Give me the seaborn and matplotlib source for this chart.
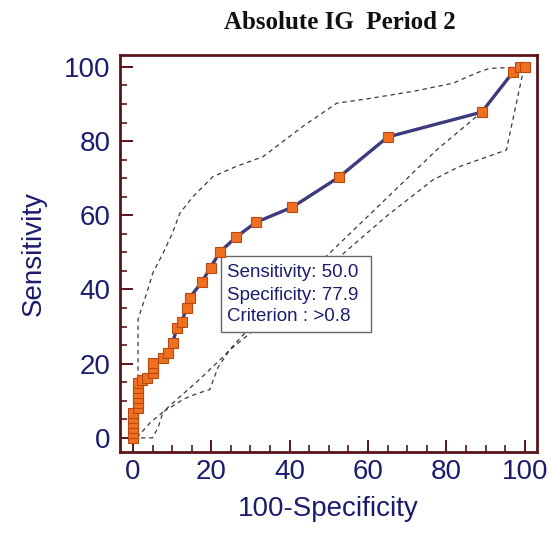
import matplotlib
matplotlib.use("Agg")
import matplotlib.pyplot as plt
import seaborn as sns
import pandas as pd
from matplotlib.patches import Rectangle
from matplotlib.ticker import MultipleLocator

# ROC curve points (100-Specificity, Sensitivity)
roc_x = [0, 0, 0, 0, 0, 0, 1.3, 1.3, 1.3, 1.3, 1.3, 1.3, 2.2, 3.5, 5.2, 5.2, 5.2,
         7.6, 9.0, 10.1, 11.3, 12.4, 13.7, 14.5, 17.5, 19.8, 22.1, 26.3, 31.4,
         40.7, 52.6, 65.0, 89.0, 97.0, 98.7, 100]
roc_y = [0, 1.4, 2.7, 4.1, 5.4, 6.8, 8.1, 9.5, 10.8, 12.2, 13.5, 14.9, 15.5, 16.2,
         17.6, 18.9, 20.3, 21.6, 23.0, 25.7, 29.7, 31.1, 35.1, 37.8, 41.9, 45.9,
         50.0, 54.1, 58.1, 62.2, 70.3, 81.1, 87.8, 98.6, 100, 100]

# Confidence bound curves (dashed)
upper_x = [1.3, 1.3, 3.5, 5.1, 7.7, 10.0, 12.0, 15.3, 20.4, 26.0, 33.2, 43.4, 52.0,
           60.5, 72.0, 81.7, 88.0, 91.0, 100]
upper_y = [5.0, 32.0, 39.0, 44.5, 49.8, 55.0, 60.6, 65.0, 70.4, 73.0, 75.8, 84.0,
           90.2, 91.5, 93.5, 95.6, 98.5, 99.6, 100]
lowA_x = [1.0, 4.3, 7.7, 11.0, 16.0, 23.0, 28.6, 49.7, 77.5, 89.0, 97.0, 100]
lowA_y = [0.0, 4.0, 7.0, 10.2, 14.8, 21.8, 28.3, 49.3, 77.6, 87.8, 98.6, 100]
lowB_x = [0, 5.0, 6.5, 7.7, 10.0, 13.0, 16.5, 19.6, 21.7, 24.7, 40.0, 54.8, 65.0,
          76.5, 83.0, 95.3, 99.5, 100]
lowB_y = [0, 0, 3.0, 7.0, 8.5, 10.5, 12.0, 13.0, 19.0, 23.7, 37.0, 50.7, 60.0,
          69.5, 73.0, 77.6, 98.4, 100]

title = "Absolute IG  Period 2"
xlabel = "100-Specificity"
ylabel = "Sensitivity"
box_lines = ["Sensitivity: 50.0", "Specificity: 77.9", "Criterion : >0.8"]
ticks = [0, 20, 40, 60, 80, 100]

sns.set_style("white")
plt.rcParams['font.family'] = ['Liberation Sans', 'DejaVu Sans']

navy = "#1c1c6e"
spine_c = "#5a1418"

fig = plt.figure(figsize=(5.53, 5.34), dpi=100)
ax = fig.add_axes([0.217, 0.1536, 0.754, 0.7434])

dash = (0, (3.5, 3))
for xs, ys in [(upper_x, upper_y), (lowA_x, lowA_y), (lowB_x, lowB_y)]:
    df = pd.DataFrame({"x": xs, "y": ys})
    sns.lineplot(data=df, x="x", y="y", sort=False, ax=ax, color="#3a3a3a",
                 lw=0.9, linestyle=dash, zorder=1, estimator=None)

# annotation box (behind ROC)
bx0, bx1, by0, by1 = 22.45, 60.7, 28.57, 49.06
ax.add_patch(Rectangle((bx0, by0), bx1 - bx0, by1 - by0, facecolor="white",
                       edgecolor="#6e6262", lw=1.0, zorder=2))
for txt, yy in zip(box_lines, [44.7, 38.5, 32.6]):
    ax.text(24.0, yy, txt, color=navy, fontsize=13.5, va="center", ha="left",
            zorder=3)

roc_df = pd.DataFrame({"x": roc_x, "y": roc_y})
sns.lineplot(data=roc_df, x="x", y="y", sort=False, ax=ax, color="#3b3b7e",
             lw=2.4, marker="s", markersize=7, markerfacecolor="#f07022",
             markeredgecolor="#b84a10", markeredgewidth=0.8, zorder=4,
             estimator=None)

ax.set_xlim(-3.3, 103.1)
ax.set_ylim(-3.8, 103.2)
ax.set_xticks(ticks)
ax.set_yticks(ticks)
ax.xaxis.set_minor_locator(MultipleLocator(5))
ax.yaxis.set_minor_locator(MultipleLocator(5))
ax.tick_params(which="major", direction="in", length=9, width=1.4,
               color=spine_c, labelsize=20, labelcolor=navy)
ax.tick_params(which="minor", direction="in", length=5, width=1.2,
               color=spine_c)
ax.tick_params(axis="x", which="both", bottom=True, top=False, pad=5)
ax.tick_params(axis="y", which="both", left=True, right=False, pad=7)
for s in ax.spines.values():
    s.set_color(spine_c)
    s.set_linewidth(2)
    s.set_visible(True)

ax.set_xlabel(xlabel, fontsize=20, color=navy, labelpad=8)
ax.set_ylabel(ylabel, fontsize=20, color=navy, labelpad=12)

fig.text(0.615, 0.957, title, fontsize=18, fontweight="bold",
         family=["Liberation Serif", "DejaVu Serif"], ha="center", va="center",
         color="#111111")

fig.savefig("out.png", dpi=100)
